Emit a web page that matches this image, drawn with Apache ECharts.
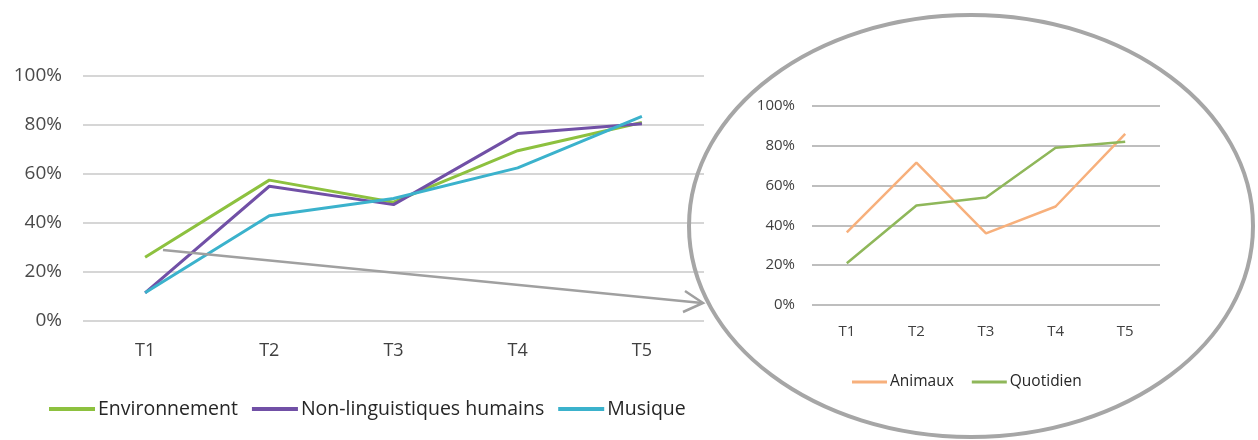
<!DOCTYPE html>
<html>
<head>
<meta charset="utf-8">
<script src="https://cdn.jsdelivr.net/npm/echarts@6/dist/echarts.min.js"></script>
<style>
  html, body { margin: 0; padding: 0; background: #fff; }
  #chart { width: 1258px; height: 440px; }
</style>
</head>
<body>
<div id="chart"></div>
<script>
// categories shared by both charts
const periods = ['T1', 'T2', 'T3', 'T4', 'T5'];
const yTicks = [0, 20, 40, 60, 80, 100];

// left chart (percent)
const environnement = [26, 57.5, 48.5, 69.5, 81];
const nonLinguistiques = [11.5, 55, 47.5, 76.5, 80.5];
const musique = [11.5, 43, 50, 62.5, 83.5];

// zoomed chart (percent)
const animaux = [36.5, 71.5, 36, 49.5, 86];
const quotidien = [21, 50, 54, 79, 82];

const FONT = '"Open Sans", "Noto Sans", sans-serif';

let chartDom = document.getElementById('chart');
let myChart = echarts.init(chartDom);
let option;

function yAxisFor(gridIndex, size, color, margin, lineColor, lineWidth) {
  return {
    type: 'value',
    gridIndex: gridIndex,
    min: yTicks[0],
    max: yTicks[yTicks.length - 1],
    interval: yTicks[1] - yTicks[0],
    axisLine: { show: false },
    axisTick: { show: false },
    axisLabel: { formatter: '{value}%', fontSize: size, color: color, fontFamily: FONT, margin: margin },
    splitLine: { lineStyle: { color: lineColor, width: lineWidth } }
  };
}

function xAxisFor(gridIndex, size, color, margin) {
  return {
    type: 'category',
    gridIndex: gridIndex,
    data: periods,
    axisLine: { show: false },
    axisTick: { show: false },
    axisLabel: { fontSize: size, color: color, fontFamily: FONT, margin: margin }
  };
}

function line(name, data, color, width, idx) {
  return {
    name: name,
    type: 'line',
    data: data,
    xAxisIndex: idx,
    yAxisIndex: idx,
    symbol: 'none',
    lineStyle: { color: color, width: width },
    itemStyle: { color: color }
  };
}

option = {
  backgroundColor: '#ffffff',
  animation: false,
  grid: [
    { left: 83, right: 554, top: 76, bottom: 119 },
    { left: 812, right: 98, top: 106, bottom: 135 }
  ],
  xAxis: [
    xAxisFor(0, 18, '#404040', 21),
    xAxisFor(1, 15, '#404040', 19)
  ],
  yAxis: [
    yAxisFor(0, 19, '#4a4a4a', 21, '#d6d6d6', 2),
    yAxisFor(1, 15, '#404040', 17, '#a8a8a8', 1.5)
  ],
  legend: [
    {
      data: ['Environnement', 'Non-linguistiques humains', 'Musique'],
      left: 44,
      top: 394,
      icon: 'rect',
      itemWidth: 46,
      itemHeight: 4,
      itemGap: 14,
      textStyle: { fontSize: 19.5, color: '#262626', fontFamily: FONT, padding: [0, 0, 0, -2] }
    },
    {
      data: ['Animaux', 'Quotidien'],
      left: 847,
      top: 369,
      icon: 'rect',
      itemWidth: 35,
      itemHeight: 3,
      itemGap: 18,
      textStyle: { fontSize: 15.5, color: '#262626', fontFamily: FONT, padding: [0, 0, 0, -2] }
    }
  ],
  series: [
    line('Environnement', environnement, '#8dc13f', 3, 0),
    line('Non-linguistiques humains', nonLinguistiques, '#7150a6', 3, 0),
    line('Musique', musique, '#3bb2cc', 3, 0),
    line('Animaux', animaux, '#f7b07c', 2.5, 1),
    line('Quotidien', quotidien, '#8fb75a', 2.5, 1)
  ],
  graphic: [
    {
      type: 'ellipse',
      shape: { cx: 971, cy: 226, rx: 282, ry: 211 },
      style: { fill: 'none', stroke: '#a6a6a6', lineWidth: 4 },
      z: 100
    },
    {
      type: 'line',
      shape: { x1: 163, y1: 250, x2: 702, y2: 303 },
      style: { stroke: '#a0a0a0', lineWidth: 2.5 },
      z: 100
    },
    {
      type: 'polyline',
      shape: { points: [[685, 291], [703, 303], [683, 312]] },
      style: { stroke: '#a0a0a0', lineWidth: 2.5, fill: 'none' },
      z: 100
    }
  ]
};

option && myChart.setOption(option);
</script>
</body>
</html>
